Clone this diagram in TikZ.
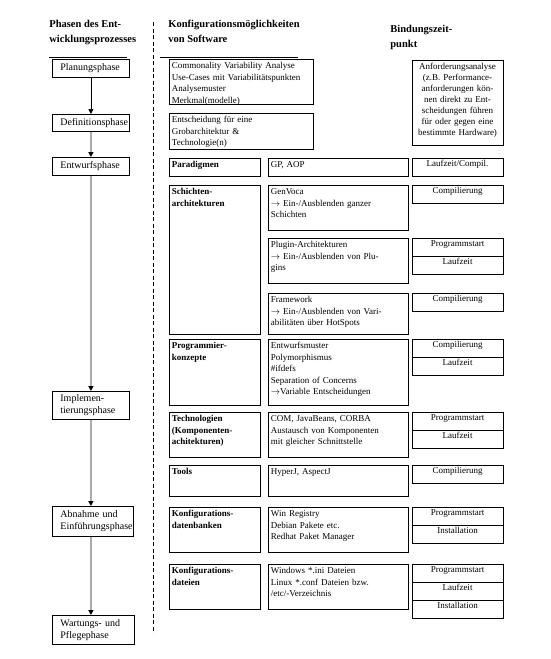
\documentclass[tikz,border=0pt]{standalone}
\usepackage{fontspec}
\setmainfont{Liberation Serif}
\usetikzlibrary{positioning,arrows.meta}
\hyphenpenalty=10000
\exhyphenpenalty=10000

\begin{document}
\begin{tikzpicture}
                [x=1pt,y=-1pt,line width=0.8pt,
                head/.style={anchor=north west,align=left,inner sep=0pt,font=\fontsize{10.5}{14.5}\selectfont\bfseries},
                phase/.style={draw,anchor=north west,align=left,inner xsep=8pt,inner ysep=1pt,font=\fontsize{10}{12}\selectfont},
                box/.style={draw,anchor=north west,align=left,inner sep=2.5pt,text height=7pt,font=\fontsize{9}{11.5}\selectfont},
                lab/.style={box,text width=86pt,font=\fontsize{9}{11.5}\selectfont\bfseries},
                opt/.style={box,text width=135pt},
                zeit/.style={draw,anchor=north west,align=center,text width=87pt,inner xsep=2pt,inner ysep=1pt,text height=7pt,text depth=9pt,outer sep=0pt,font=\fontsize{9}{11}\selectfont},
                thinflow/.style={draw=black,line width=0.7pt,-{Triangle[length=5pt,width=5pt]}},
                flow/.style={draw=gray!65,line width=2.2pt,-{Triangle[color=black,length=5pt,width=5pt]}}]
                \useasboundingbox (0,0) rectangle (551,659);
                \node[head] (h1) at (49,20) {Phasen des Ent-\\wicklungsprozesses};
                \node[head] (h2) at (168,20) {Konfigurationsmöglichkeiten\\von Software};
                \node[head] (h3) at (390,25) {Bindungszeit-\\punkt};
                \draw (49,57) -- (127,57) (160,57) -- (298,57);
                \draw[dash pattern=on 4pt off 2.5pt] (153,22) -- (153,633);

                \node[phase,text width=61pt,minimum height=18pt] (plan) at (52,59) {Planungsphase};
                \node[phase,text width=61pt,minimum height=17pt] (def) at (52,114) {Definitionsphase};
                \node[phase,text width=61pt,minimum height=18pt] (entw) at (52,157) {Entwurfsphase};
                \node[phase,text width=61pt,minimum height=28pt] (impl) at (52,391) {Implemen-\\tierungsphase};
                \node[phase,text width=65pt,minimum height=30pt] (abn) at (52,506) {Abnahme und\\Einführungsphase};
                \node[phase,text width=66pt,minimum height=29pt] (wart) at (52,615) {Wartungs- und\\Pflegephase};
                \draw[thinflow] (plan) -- (def);
                \draw[flow] (def) -- (entw);
                \draw[flow] (entw) -- (impl);
                \draw[flow] (impl.south) -- (impl.south |- abn.north);
                \draw[flow] (impl.south |- abn.south) -- (impl.south |- wart.north);

                \node[box,text width=139pt,text depth=33pt] (ana) at (169,59) {Commonality Variability Analyse\\Use-Cases mit Variabilitätspunkten\\Analysemuster\\Merkmal(modelle)};
                \node[box,text width=139pt,text depth=24pt] (arch) at (169,113) {Entscheidung für eine\\Grobarchitektur \&\\Technologie(n)};
                \node[lab,text depth=6pt] (para) at (169,158) {Paradigmen};
                \node[opt,text depth=6pt] (gp) at (268,158) {GP, AOP};
                \node[lab,text depth=137pt] (schicht) at (169,185) {Schichten-\\architekturen};
                \node[opt,text depth=33pt] (genvoca) at (268,185) {GenVoca\\$\rightarrow$ Ein-/Ausblenden ganzer\\Schichten};
                \node[opt,text depth=33pt] (plugin) at (268,238) {Plugin-Architekturen\\$\rightarrow$ Ein-/Ausblenden von Plu-\\gins};
                \node[opt,text depth=29pt] (frame) at (268,293) {Framework\\$\rightarrow$ Ein-/Ausblenden von Vari-\\abilitäten über HotSpots};
                \node[lab,text depth=54pt] (prog) at (169,339) {Programmier-\\konzepte};
                \node[opt,text depth=54pt] (konz) at (268,339) {Entwurfsmuster\\Polymorphismus\\\#ifdefs\\Separation of Concerns\\$\rightarrow$Variable Entscheidungen};
                \node[lab,text depth=33pt] (tech) at (169,412) {Technologien\\(Komponenten-\\achitekturen)};
                \node[opt,text depth=33pt] (com) at (268,412) {COM, JavaBeans, CORBA\\Austausch von Komponenten\\mit gleicher Schnittstelle};
                \node[lab,text depth=19pt] (tools) at (169,465) {Tools};
                \node[opt,text depth=19pt] (hyper) at (268,465) {HyperJ, AspectJ};
                \node[lab,text depth=33pt] (kdb) at (169,507) {Konfigurations-\\datenbanken};
                \node[opt,text depth=33pt] (reg) at (268,507) {Win Registry\\Debian Pakete etc.\\Redhat Paket Manager};
                \node[lab,text depth=33pt] (kdat) at (169,564) {Konfigurations-\\dateien};
                \node[opt,text depth=33pt] (ini) at (268,564) {Windows *.ini Dateien\\Linux *.conf Dateien bzw.\\/etc/-Verzeichnis};

                \node[zeit,text depth=73pt,inner ysep=2.5pt] (anf) at (412,60) {Anforderungsanalyse\\(z.B. Performance-\\anforderungen kön-\\nen direkt zu Ent-\\scheidungen führen\\für oder gegen eine\\bestimmte Hardware)};
                \node[zeit] (lc) at (412,158) {Laufzeit/Compil.};
                \node[zeit] (c1) at (412,185) {Compilierung};
                \node[zeit] (ps1) at (412,238) {Programmstart};
                \node[zeit,below=0pt of ps1] (lz1) {Laufzeit};
                \node[zeit] (c2) at (412,293) {Compilierung};
                \node[zeit] (c3) at (412,339) {Compilierung};
                \node[zeit,below=0.8pt of c3] (lz2) {Laufzeit};
                \node[zeit] (ps2) at (412,412) {Programmstart};
                \node[zeit,below=0pt of ps2] (lz3) {Laufzeit};
                \node[zeit] (c4) at (412,465) {Compilierung};
                \node[zeit] (ps3) at (412,507) {Programmstart};
                \node[zeit,below=0pt of ps3] (in1) {Installation};
                \node[zeit] (ps4) at (412,564) {Programmstart};
                \node[zeit,below=0pt of ps4] (lz4) {Laufzeit};
                \node[zeit,below=0pt of lz4] (in2) {Installation};
\end{tikzpicture}
\end{document}
